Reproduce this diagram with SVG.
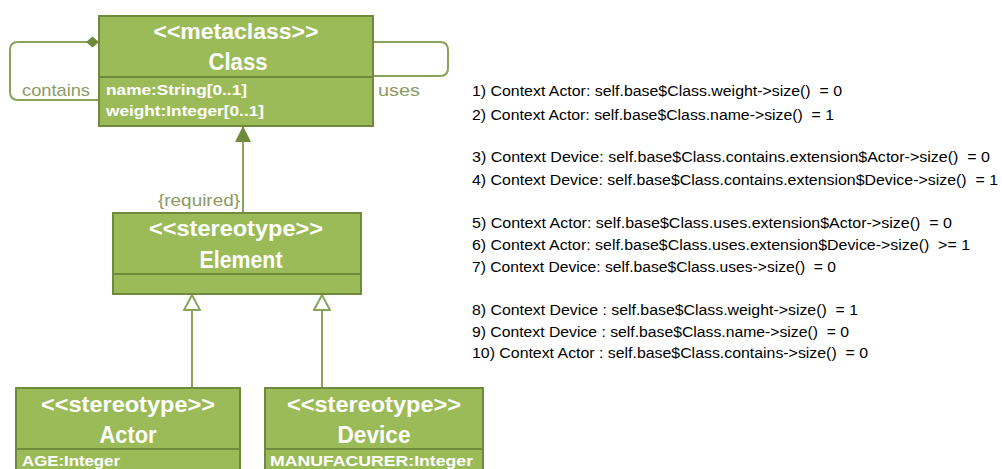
<svg xmlns="http://www.w3.org/2000/svg" width="1002" height="469" viewBox="0 0 1002 469">
<style>
.box{fill:#9BBB59;stroke:#6F8A3C;stroke-width:2}
.div{stroke:#6F8A3C;stroke-width:2}
.h{font-family:"Liberation Sans",Arial,sans-serif;font-weight:bold;font-size:22px;fill:#FFFFFF;text-anchor:middle}
.n{font-size:23px}
.a{font-family:"Liberation Sans",Arial,sans-serif;font-weight:bold;font-size:15px;fill:#FFFFFF}
.lbl{font-family:"Liberation Sans",Arial,sans-serif;font-size:17px;fill:#8C9A62}
.c{fill:none;stroke:#8AA35C;stroke-width:2}
.t{font-family:"Liberation Sans",Arial,sans-serif;font-size:14px;fill:#000000;white-space:pre}
</style>
<defs>
<marker id="filled" markerWidth="16" markerHeight="16" refX="15" refY="8" orient="auto" markerUnits="userSpaceOnUse">
<path d="M0,0 L16,8 L0,16 Z" fill="#6F8A3C"/>
</marker>
<marker id="hollow" markerWidth="18" markerHeight="18" refX="16" refY="9" orient="auto" markerUnits="userSpaceOnUse">
<path d="M1,1 L16,9 L1,17 Z" fill="#FFFFFF" stroke="#8AA35C" stroke-width="2"/>
</marker>
</defs>
<g id="connectors">
<path class="c" d="M88,42 H18 Q10,42 10,50 V92 Q10,100 18,100 H98" stroke-width="1.6"/>
<path d="M86,42 L92.5,36.5 L99,42 L92.5,47.5 Z" fill="#6F8A3C"/>
<path class="c" d="M373,42 H440 Q448,42 448,50 V68 Q448,76 440,76 H373" stroke-width="1.6"/>
<line class="c" x1="243" y1="213" x2="243" y2="127" marker-end="url(#filled)"/>
<line class="c" x1="192" y1="387" x2="192" y2="295" marker-end="url(#hollow)"/>
<line class="c" x1="322" y1="387" x2="322" y2="295" marker-end="url(#hollow)"/>
<text class="lbl" x="22" y="96" textLength="68" lengthAdjust="spacingAndGlyphs">contains</text>
<text class="lbl" x="378" y="96" textLength="42" lengthAdjust="spacingAndGlyphs">uses</text>
<text class="lbl" x="158" y="206" textLength="82" lengthAdjust="spacingAndGlyphs">{required}</text>
</g>
<g id="node-class">
<rect class="box" x="99" y="16" width="274" height="110"/>
<line class="div" x1="99" y1="77" x2="373" y2="77"/>
<text class="h" x="236" y="39" textLength="165" lengthAdjust="spacingAndGlyphs">&lt;&lt;metaclass&gt;&gt;</text>
<text class="h n" x="238" y="70" textLength="59" lengthAdjust="spacingAndGlyphs">Class</text>
<text class="a" x="106" y="95" textLength="141" lengthAdjust="spacingAndGlyphs">name:String[0..1]</text>
<text class="a" x="106" y="116" textLength="158" lengthAdjust="spacingAndGlyphs">weight:Integer[0..1]</text>
</g>
<g id="node-element">
<rect class="box" x="113" y="213" width="248" height="81"/>
<line class="div" x1="113" y1="274" x2="361" y2="274"/>
<text class="h" x="236" y="236" textLength="174" lengthAdjust="spacingAndGlyphs">&lt;&lt;stereotype&gt;&gt;</text>
<text class="h n" x="241" y="268" textLength="83" lengthAdjust="spacingAndGlyphs">Element</text>
</g>
<g id="node-actor">
<rect class="box" x="16" y="388" width="224" height="90"/>
<line class="div" x1="16" y1="449" x2="240" y2="449"/>
<text class="h" x="128" y="412" textLength="174" lengthAdjust="spacingAndGlyphs">&lt;&lt;stereotype&gt;&gt;</text>
<text class="h n" x="128" y="443" textLength="57" lengthAdjust="spacingAndGlyphs">Actor</text>
<text class="a" x="22" y="466" textLength="98" lengthAdjust="spacingAndGlyphs">AGE:Integer</text>
</g>
<g id="node-device">
<rect class="box" x="265" y="388" width="218" height="90"/>
<line class="div" x1="265" y1="449" x2="483" y2="449"/>
<text class="h" x="374" y="412" textLength="174" lengthAdjust="spacingAndGlyphs">&lt;&lt;stereotype&gt;&gt;</text>
<text class="h n" x="374" y="443" textLength="73" lengthAdjust="spacingAndGlyphs">Device</text>
<text class="a" x="270" y="466" textLength="203" lengthAdjust="spacingAndGlyphs">MANUFACURER:Integer</text>
</g>
<g id="constraints">
<text class="t" x="472" y="96" textLength="370" lengthAdjust="spacingAndGlyphs">1) Context Actor: self.base$Class.weight-&gt;size()  = 0</text>
<text class="t" x="472" y="120" textLength="362" lengthAdjust="spacingAndGlyphs">2) Context Actor: self.base$Class.name-&gt;size()  = 1</text>
<text class="t" x="472" y="162" textLength="518" lengthAdjust="spacingAndGlyphs">3) Context Device: self.base$Class.contains.extension$Actor-&gt;size()  = 0</text>
<text class="t" x="472" y="185" textLength="526" lengthAdjust="spacingAndGlyphs">4) Context Device: self.base$Class.contains.extension$Device-&gt;size()  = 1</text>
<text class="t" x="472" y="228" textLength="480" lengthAdjust="spacingAndGlyphs">5) Context Actor: self.base$Class.uses.extension$Actor-&gt;size()  = 0</text>
<text class="t" x="472" y="250" textLength="498" lengthAdjust="spacingAndGlyphs">6) Context Actor: self.base$Class.uses.extension$Device-&gt;size()  &gt;= 1</text>
<text class="t" x="472" y="272" textLength="364" lengthAdjust="spacingAndGlyphs">7) Context Device: self.base$Class.uses-&gt;size()  = 0</text>
<text class="t" x="472" y="315" textLength="386" lengthAdjust="spacingAndGlyphs">8) Context Device : self.base$Class.weight-&gt;size()  = 1</text>
<text class="t" x="472" y="337" textLength="377" lengthAdjust="spacingAndGlyphs">9) Context Device : self.base$Class.name-&gt;size()  = 0</text>
<text class="t" x="472" y="358" textLength="396" lengthAdjust="spacingAndGlyphs">10) Context Actor : self.base$Class.contains-&gt;size()  = 0</text>
</g>
</svg>
